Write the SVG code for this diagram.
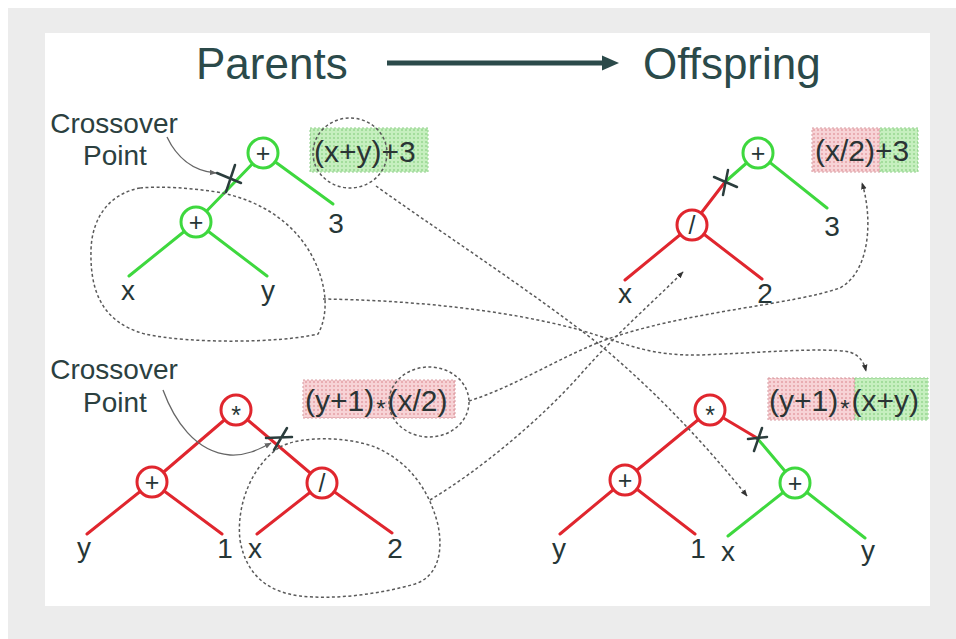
<svg xmlns="http://www.w3.org/2000/svg" width="956" height="639" viewBox="0 0 956 639">
  <defs>
    <style>
      .title{font-family:"Liberation Sans",Arial,sans-serif;font-size:44px;fill:#2b4a4a}
      .note{font-family:"Liberation Sans",Arial,sans-serif;font-size:28px;fill:#2b4040;text-anchor:middle}
      .lbl{font-family:"Liberation Sans",Arial,sans-serif;font-size:28px;fill:#263636;text-anchor:middle}
      .op{font-family:"Liberation Sans",Arial,sans-serif;font-size:25px;fill:#263636;text-anchor:middle}
      .expr{font-family:"Liberation Sans",Arial,sans-serif;font-size:30px;fill:#2a3434}
      .eg{stroke:#3ed83e;stroke-width:3;fill:none;stroke-linecap:round}
      .er{stroke:#e0262e;stroke-width:3;fill:none;stroke-linecap:round}
      .ng{fill:#fff;stroke:#3ed83e;stroke-width:3}
      .nr{fill:#fff;stroke:#e0262e;stroke-width:3}
      .cut{stroke:#2b3d3d;stroke-width:2.5;fill:none;stroke-linecap:round}
      .dash{stroke:#5a5a5a;stroke-width:1.5;fill:none;stroke-dasharray:3 2.5}
      .thin{stroke:#666;stroke-width:1.3;fill:none}
      .bxr{fill:url(#hatchRed);stroke:#d79aa0;stroke-width:1;stroke-dasharray:2 2}
      .bxg{fill:url(#hatchGreen);stroke:#8fcf8a;stroke-width:1;stroke-dasharray:2 2}
    </style>
    <pattern id="hatchRed" width="4" height="4" patternUnits="userSpaceOnUse">
      <rect width="4" height="4" fill="#f7d3d6"/>
      <circle cx="2" cy="2" r="1" fill="#e5a0a6"/>
    </pattern>
    <pattern id="hatchGreen" width="4" height="4" patternUnits="userSpaceOnUse">
      <rect width="4" height="4" fill="#c6efbf"/>
      <circle cx="2" cy="2" r="1" fill="#97d890"/>
    </pattern>
    <marker id="tip" viewBox="0 0 10 10" refX="9" refY="5" markerWidth="7" markerHeight="7" orient="auto" markerUnits="userSpaceOnUse">
      <path d="M0 1 L10 5 L0 9 Z" fill="#333"/>
    </marker>
    <marker id="tipGray" viewBox="0 0 10 10" refX="9" refY="5" markerWidth="7" markerHeight="7" orient="auto" markerUnits="userSpaceOnUse">
      <path d="M0 1 L10 5 L0 9 Z" fill="#666"/>
    </marker>
  </defs>

  <!-- page frame -->
  <rect x="0" y="0" width="956" height="639" fill="#ffffff"/>
  <rect x="8" y="8" width="948" height="631" fill="#ececec"/>
  <rect x="45" y="33" width="885" height="573" fill="#ffffff"/>

  <!-- headings -->
  <g id="heading-parents"><text class="title" x="196" y="79">Parents</text></g>
  <g id="heading-offspring"><text class="title" x="643" y="79">Offspring</text></g>
  <g id="heading-arrow">
    <line x1="387" y1="63" x2="604" y2="63" stroke="#2b4a4a" stroke-width="5"/>
    <path d="M602 55.5 L619 63 L602 70.5 Z" fill="#2b4a4a"/>
  </g>

  <!-- notes -->
  <g id="note-top">
    <text class="note" x="114" y="133">Crossover</text>
    <text class="note" x="115" y="165">Point</text>
  </g>
  <g id="note-bottom">
    <text class="note" x="114" y="379">Crossover</text>
    <text class="note" x="115" y="412">Point</text>
  </g>

  <!-- expression boxes -->
  <g id="expr-parent1">
    <rect class="bxg" x="310" y="128" width="118" height="44"/>
    <text class="expr" x="314" y="162">(x+y)+3</text>
  </g>
  <g id="expr-parent2">
    <rect class="bxr" x="303" y="380" width="152" height="38"/>
    <text class="expr" x="305" y="411">(y+1)<tspan font-size="24" dy="6" dx="2">*</tspan><tspan dy="-6" dx="2">(x/2)</tspan></text>
  </g>
  <g id="expr-child1">
    <rect class="bxr" x="812" y="128" width="68" height="44"/>
    <rect class="bxg" x="880" y="128" width="38" height="44"/>
    <text class="expr" x="815" y="161">(x/2)+3</text>
  </g>
  <g id="expr-child2">
    <rect class="bxr" x="768" y="378" width="87" height="42"/>
    <rect class="bxg" x="855" y="378" width="73" height="42"/>
    <text class="expr" x="769" y="411">(y+1)<tspan font-size="24" dy="6" dx="2">*</tspan><tspan dy="-6" dx="2">(x+y)</tspan></text>
  </g>

  <!-- connectors: tree edges, crossover marks, selection outlines and transfer arrows -->
  <g id="connectors">
    <!-- parent 1 edges -->
    <line class="eg" x1="263" y1="153" x2="333" y2="204"/>
    <line class="eg" x1="263" y1="153" x2="196" y2="222"/>
    <line class="eg" x1="196" y1="222" x2="129" y2="276"/>
    <line class="eg" x1="196" y1="222" x2="267" y2="276"/>
    <!-- offspring 1 edges -->
    <line class="eg" x1="758" y1="153" x2="827" y2="208"/>
    <line class="eg" x1="758" y1="153" x2="725" y2="182"/>
    <line class="er" x1="725" y1="182" x2="692" y2="225"/>
    <line class="er" x1="692" y1="225" x2="625" y2="280"/>
    <line class="er" x1="692" y1="225" x2="762" y2="279"/>
    <!-- parent 2 edges -->
    <line class="er" x1="236" y1="410" x2="152" y2="482"/>
    <line class="er" x1="236" y1="410" x2="322" y2="483"/>
    <line class="er" x1="152" y1="482" x2="87" y2="534"/>
    <line class="er" x1="152" y1="482" x2="222" y2="534"/>
    <line class="er" x1="322" y1="483" x2="257" y2="534"/>
    <line class="er" x1="322" y1="483" x2="392" y2="533"/>
    <!-- offspring 2 edges -->
    <line class="er" x1="710" y1="410" x2="625" y2="480"/>
    <line class="er" x1="710" y1="410" x2="757" y2="438"/>
    <line class="eg" x1="757" y1="438" x2="795" y2="483"/>
    <line class="er" x1="625" y1="480" x2="560" y2="534"/>
    <line class="er" x1="625" y1="480" x2="695" y2="534"/>
    <line class="eg" x1="795" y1="483" x2="728" y2="536"/>
    <line class="eg" x1="795" y1="483" x2="865" y2="538"/>

    <!-- crossover marks -->
    <path class="cut" d="M217 173 L241 183 M235 165 L226 192"/>
    <path class="cut" d="M714 177 L737 187 M728 170 L723 195"/>
    <path class="cut" d="M266 438 L292 437 M287 428 L274 450"/>
    <path class="cut" d="M748 439 L767 437 M762 428 L754 451"/>

    <!-- pointers from the notes -->
    <path class="thin" d="M167 137 C176 156 192 171 216 173" marker-end="url(#tipGray)"/>
    <path class="thin" d="M163 390 C174 420 195 452 230 455 C245 456 258 450 271 443" marker-end="url(#tipGray)"/>

    <!-- selected subtrees -->
    <path class="dash" d="M140 188 C112 193 92 215 91 250 C90 288 100 322 145 334 C190 344 280 343 318 334 C330 312 326 282 312 256 C295 224 262 200 217 192 C190 188 162 186 140 188 Z"/>
    <path class="dash" d="M280 447 C300 436 345 436 375 447 C405 460 428 485 438 525 C444 555 436 577 415 584 C380 594 335 600 300 596 C268 592 246 575 240 540 C236 505 252 465 280 447 Z"/>
    <ellipse class="dash" cx="350" cy="153" rx="37" ry="35"/>
    <ellipse class="dash" cx="429" cy="402" rx="40" ry="35"/>

    <!-- transfer arrows -->
    <path class="dash" d="M376 186 C430 225 530 290 600 345 C660 395 710 450 747 496" marker-end="url(#tip)"/>
    <path class="dash" d="M323 299 C400 300 500 308 580 330 C630 345 650 356 700 355 C760 353 820 347 850 352 C860 356 864 362 866 371" marker-end="url(#tip)"/>
    <path class="dash" d="M469 401 C520 385 570 350 620 335 C700 310 790 305 840 288 C872 270 872 215 862 183" marker-end="url(#tip)"/>
    <path class="dash" d="M430 500 C480 470 540 420 580 375 C615 335 650 305 683 272" marker-end="url(#tip)"/>
  </g>

  <!-- parent 1 -->
  <g id="p1-root"><circle class="ng" cx="263" cy="153" r="15"/><text class="op" x="263" y="162">+</text></g>
  <g id="p1-plus"><circle class="ng" cx="196" cy="222" r="15"/><text class="op" x="196" y="231">+</text></g>
  <g id="p1-x"><text class="lbl" x="128" y="300">x</text></g>
  <g id="p1-y"><text class="lbl" x="268" y="300">y</text></g>
  <g id="p1-3"><text class="lbl" x="336" y="233">3</text></g>

  <!-- offspring 1 -->
  <g id="c1-root"><circle class="ng" cx="758" cy="153" r="15"/><text class="op" x="758" y="162">+</text></g>
  <g id="c1-div"><circle class="nr" cx="692" cy="225" r="15"/><text class="op" x="692" y="234">/</text></g>
  <g id="c1-x"><text class="lbl" x="625" y="303">x</text></g>
  <g id="c1-2"><text class="lbl" x="765" y="303">2</text></g>
  <g id="c1-3"><text class="lbl" x="832" y="236">3</text></g>

  <!-- parent 2 -->
  <g id="p2-root"><circle class="nr" cx="236" cy="410" r="15"/><text class="op" x="236" y="424">*</text></g>
  <g id="p2-plus"><circle class="nr" cx="152" cy="482" r="15"/><text class="op" x="152" y="491">+</text></g>
  <g id="p2-div"><circle class="nr" cx="322" cy="483" r="15"/><text class="op" x="322" y="492">/</text></g>
  <g id="p2-y"><text class="lbl" x="84" y="557">y</text></g>
  <g id="p2-1"><text class="lbl" x="225" y="558">1</text></g>
  <g id="p2-x"><text class="lbl" x="255" y="558">x</text></g>
  <g id="p2-2"><text class="lbl" x="395" y="558">2</text></g>

  <!-- offspring 2 -->
  <g id="c2-root"><circle class="nr" cx="710" cy="410" r="15"/><text class="op" x="710" y="424">*</text></g>
  <g id="c2-plus-left"><circle class="nr" cx="625" cy="480" r="15"/><text class="op" x="625" y="489">+</text></g>
  <g id="c2-plus-right"><circle class="ng" cx="795" cy="483" r="15"/><text class="op" x="795" y="492">+</text></g>
  <g id="c2-y-left"><text class="lbl" x="559" y="558">y</text></g>
  <g id="c2-1"><text class="lbl" x="698" y="558">1</text></g>
  <g id="c2-x"><text class="lbl" x="728" y="561">x</text></g>
  <g id="c2-y-right"><text class="lbl" x="868" y="560">y</text></g>
</svg>
